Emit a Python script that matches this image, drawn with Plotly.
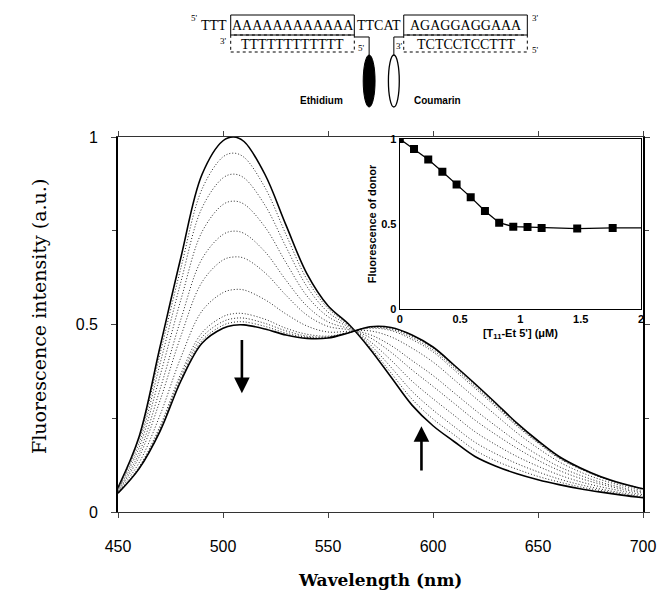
import plotly.graph_objects as go

# ---------------- data ----------------
wavelength = [450, 460, 470, 480, 490, 500, 505, 510, 520, 530, 540, 550, 560,
              570, 580, 590, 600, 610, 620, 630, 640, 650, 660, 670, 680, 690, 700]

spectrum_00 = [0.065, 0.200, 0.440, 0.680, 0.900, 0.990, 1.000, 0.988, 0.900, 0.765, 0.635, 0.550, 0.500,
               0.435, 0.360, 0.285, 0.230, 0.188, 0.148, 0.122, 0.102, 0.086, 0.073, 0.062, 0.053, 0.045, 0.038]
spectrum_01 = [0.064, 0.193, 0.421, 0.652, 0.861, 0.947, 0.957, 0.946, 0.865, 0.740, 0.620, 0.543, 0.498,
               0.440, 0.371, 0.301, 0.248, 0.206, 0.165, 0.136, 0.114, 0.095, 0.080, 0.067, 0.057, 0.048, 0.040]
spectrum_02 = [0.062, 0.183, 0.395, 0.615, 0.811, 0.891, 0.901, 0.891, 0.818, 0.707, 0.601, 0.533, 0.496,
               0.447, 0.386, 0.322, 0.272, 0.228, 0.186, 0.155, 0.129, 0.107, 0.088, 0.073, 0.061, 0.051, 0.043]
spectrum_03 = [0.060, 0.171, 0.363, 0.567, 0.747, 0.820, 0.829, 0.821, 0.760, 0.665, 0.576, 0.521, 0.493,
               0.455, 0.405, 0.349, 0.302, 0.258, 0.214, 0.179, 0.148, 0.122, 0.099, 0.081, 0.067, 0.056, 0.046]
spectrum_04 = [0.057, 0.157, 0.327, 0.515, 0.675, 0.740, 0.749, 0.743, 0.694, 0.618, 0.549, 0.507, 0.489,
               0.465, 0.426, 0.379, 0.335, 0.290, 0.245, 0.206, 0.170, 0.138, 0.111, 0.090, 0.074, 0.061, 0.050]
spectrum_05 = [0.055, 0.146, 0.297, 0.470, 0.613, 0.672, 0.680, 0.677, 0.638, 0.578, 0.525, 0.495, 0.486,
               0.473, 0.444, 0.404, 0.364, 0.318, 0.272, 0.229, 0.188, 0.152, 0.121, 0.098, 0.079, 0.065, 0.053]
spectrum_06 = [0.053, 0.131, 0.258, 0.413, 0.536, 0.585, 0.593, 0.592, 0.566, 0.528, 0.496, 0.480, 0.482,
               0.483, 0.467, 0.437, 0.400, 0.353, 0.305, 0.258, 0.211, 0.170, 0.134, 0.107, 0.086, 0.070, 0.057]
spectrum_07 = [0.051, 0.120, 0.229, 0.370, 0.478, 0.521, 0.529, 0.529, 0.514, 0.490, 0.474, 0.469, 0.479,
               0.490, 0.484, 0.460, 0.427, 0.379, 0.330, 0.280, 0.229, 0.184, 0.143, 0.115, 0.092, 0.074, 0.061]
spectrum_08 = [0.051, 0.118, 0.223, 0.362, 0.466, 0.508, 0.516, 0.517, 0.503, 0.483, 0.469, 0.467, 0.479,
               0.492, 0.487, 0.465, 0.432, 0.385, 0.335, 0.284, 0.232, 0.186, 0.145, 0.116, 0.093, 0.075, 0.061]
spectrum_09 = [0.050, 0.116, 0.219, 0.355, 0.457, 0.498, 0.506, 0.507, 0.495, 0.477, 0.466, 0.465, 0.478,
               0.493, 0.490, 0.469, 0.437, 0.389, 0.339, 0.287, 0.235, 0.188, 0.147, 0.117, 0.093, 0.076, 0.062]
spectrum_10 = [0.050, 0.115, 0.215, 0.350, 0.450, 0.490, 0.498, 0.499, 0.488, 0.472, 0.463, 0.464, 0.478,
               0.494, 0.492, 0.472, 0.440, 0.392, 0.342, 0.290, 0.237, 0.190, 0.148, 0.118, 0.094, 0.076, 0.062]

spectra = [spectrum_00, spectrum_01, spectrum_02, spectrum_03, spectrum_04, spectrum_05,
           spectrum_06, spectrum_07, spectrum_08, spectrum_09, spectrum_10]

# inset titration
conc_uM = [0.0, 0.118, 0.236, 0.353, 0.471, 0.588, 0.706, 0.824, 0.941, 1.059, 1.176, 1.471, 1.765]
donor_fluor = [1.000, 0.941, 0.879, 0.807, 0.732, 0.658, 0.576, 0.508, 0.484, 0.482, 0.477, 0.473, 0.477]

x_ticks = [450, 500, 550, 600, 650, 700]
y_ticks = [0, 0.5, 1]
y_tick_text = ["0", "0.5", "1"]
inset_x_ticks = [0, 0.5, 1, 1.5, 2]
inset_x_text = ["0", "0.5", "1", "1.5", "2"]
inset_y_ticks = [0, 0.5, 1]
inset_y_text = ["0", "0.5", "1"]

INSET_XMAX = 2

# ---------------- layout helpers (pixel -> paper) ----------------
W, H = 668, 594
ML, MR, MT, MB = 118, 19, 137, 82
PW = W - ML - MR
PH = H - MT - MB


def xp(px):
    return (px - ML) / PW


def yp(py):
    return (H - MB - py) / PH


SERIF = "Liberation Serif"
SANS = "Liberation Sans"

fig = go.Figure()

for i, s in enumerate(spectra):
    solid = i in (0, len(spectra) - 1)
    fig.add_trace(go.Scatter(
        x=wavelength, y=s, mode="lines", line_shape="spline",
        line=dict(color="black" if solid else "#2a2a2a",
                  width=1.6 if solid else 1.0,
                  dash="solid" if solid else "1px,2px"),
        showlegend=False, hoverinfo="skip"))

# inset
fig.add_trace(go.Scatter(
    x=conc_uM, y=donor_fluor, mode="lines+markers",
    line=dict(color="black", width=1.3),
    marker=dict(symbol="square", size=8, color="black"),
    xaxis="x2", yaxis="y2", showlegend=False, hoverinfo="skip"))
fig.add_trace(go.Scatter(
    x=[conc_uM[-1], INSET_XMAX], y=[donor_fluor[-1], donor_fluor[-1]], mode="lines",
    line=dict(color="black", width=1.3),
    xaxis="x2", yaxis="y2", showlegend=False, hoverinfo="skip"))

fig.update_layout(
    width=W, height=H,
    margin=dict(l=ML, r=MR, t=MT, b=MB),
    paper_bgcolor="white", plot_bgcolor="white",
    xaxis=dict(range=[450, 700], tickvals=x_ticks, ticks="outside", ticklen=5,
               showline=True, linecolor="#333333", linewidth=1.1, mirror="ticks",
               showgrid=False, zeroline=False, ticklabelstandoff=15,
               tickfont=dict(family=SANS, size=16, color="black")),
    yaxis=dict(range=[0, 1], tickvals=y_ticks, ticktext=y_tick_text, ticks="outside", ticklen=5,
               minor=dict(dtick=0.25, ticks="outside", ticklen=4, showgrid=False),
               showline=True, linecolor="black", linewidth=1.6, mirror="ticks",
               showgrid=False, zeroline=False, ticklabelstandoff=10,
               tickfont=dict(family=SANS, size=16, color="black")),
    xaxis2=dict(domain=[xp(403), xp(647)], anchor="y2", range=[0, INSET_XMAX],
                tickvals=inset_x_ticks, ticktext=inset_x_text, ticks="",
                showline=True, linecolor="black", linewidth=1.3, mirror=True,
                showgrid=False, zeroline=False,
                tickfont=dict(family=SANS, size=11, color="black", weight="bold"),
                title=dict(text="[T<sub>11</sub>-Et 5'] (μM)", standoff=4,
                           font=dict(family=SANS, size=11, color="black", weight="bold"))),
    yaxis2=dict(domain=[yp(309), yp(139)], anchor="x2", range=[0, 1.0],
                tickvals=inset_y_ticks, ticktext=inset_y_text, ticks="",
                showline=True, linecolor="black", linewidth=1.3, mirror=True,
                showgrid=False, zeroline=False,
                tickfont=dict(family=SANS, size=11, color="black", weight="bold"),
                title=dict(text="Fluorescence of donor", standoff=2,
                           font=dict(family=SANS, size=11, color="black", weight="bold"))),
)

ann = []
# axis titles
ann.append(dict(text="Wavelength (nm)", x=xp(383), y=yp(580), xref="paper", yref="paper",
                showarrow=False, xanchor="center", yanchor="middle",
                font=dict(family="DejaVu Serif", size=17, color="black", weight="bold")))
ann.append(dict(text="Fluorescence intensity (a.u.)", x=xp(38), y=yp(316), xref="paper", yref="paper",
                showarrow=False, textangle=-90, xanchor="center", yanchor="middle",
                font=dict(family="DejaVu Serif", size=19, color="black")))

# arrows
ann.append(dict(x=509, y=0.317, ax=509, ay=0.463, xref="x", yref="y", axref="x", ayref="y",
                text="", showarrow=True, arrowhead=2, arrowsize=1.2, arrowwidth=2.6,
                arrowcolor="black", standoff=0))
ann.append(dict(x=594.5, y=0.229, ax=594.5, ay=0.107, xref="x", yref="y", axref="x", ayref="y",
                text="", showarrow=True, arrowhead=2, arrowsize=1.2, arrowwidth=2.6,
                arrowcolor="black", standoff=0))


def txt(s, x, y, size=14, family=SERIF, anchor="center", weight="normal"):
    ann.append(dict(text=s, x=xp(x), y=yp(y), xref="paper", yref="paper", showarrow=False,
                    xanchor=anchor, yanchor="middle",
                    font=dict(family=family, size=size, color="black", weight=weight)))


# DNA scheme
txt("5'", 201, 18, size=9, anchor="right")
txt("TTT", 215, 26)
txt("AAAAAAAAAAAA", 294.5, 26)
txt("TTCAT", 382, 26)
txt("AGAGGAGGAAA", 469.5, 26)
txt("3'", 535, 18, size=9, anchor="left")
txt("3'", 230, 41, size=9, anchor="right")
txt("TTTTTTTTTTTT", 294.5, 44)
txt("5'", 364, 48, size=9)
txt("3'", 403, 46, size=9)
txt("TCTCCTCCTTT", 469.5, 44)
txt("5'", 535, 50, size=9, anchor="left")
txt("Ethidium", 324, 101, size=10, family=SANS, weight="bold")
txt("Coumarin", 441, 101, size=10, family=SANS, weight="bold")

shapes = []


def rect(x0, y0, x1, y1, dash="solid"):
    shapes.append(dict(type="rect", xref="paper", yref="paper",
                       x0=xp(x0), x1=xp(x1), y0=yp(y1), y1=yp(y0),
                       line=dict(color="black", width=1, dash=dash)))


rect(232, 15, 357, 35)
rect(232, 35, 357, 52, dash="dot")
rect(407, 15, 532, 35)
rect(407, 35, 532, 52, dash="dot")


def path(pts):
    d = "M " + " L ".join(f"{xp(a):.5f},{yp(b):.5f}" for a, b in pts)
    shapes.append(dict(type="path", xref="paper", yref="paper", path=d,
                       line=dict(color="black", width=1)))


path([(357, 37), (372, 37), (372, 56)])
path([(407, 37), (397, 37), (397, 56)])

shapes.append(dict(type="circle", xref="paper", yref="paper",
                   x0=xp(366), x1=xp(378), y0=yp(107), y1=yp(55),
                   fillcolor="black", line=dict(color="black", width=1)))
shapes.append(dict(type="circle", xref="paper", yref="paper",
                   x0=xp(391.5), x1=xp(402.5), y0=yp(107), y1=yp(55),
                   fillcolor="white", line=dict(color="black", width=1.3)))

fig.update_layout(annotations=ann, shapes=shapes)

fig.write_html("out.html", config={"displayModeBar": False},
               post_script="document.body.style.margin='0';")
